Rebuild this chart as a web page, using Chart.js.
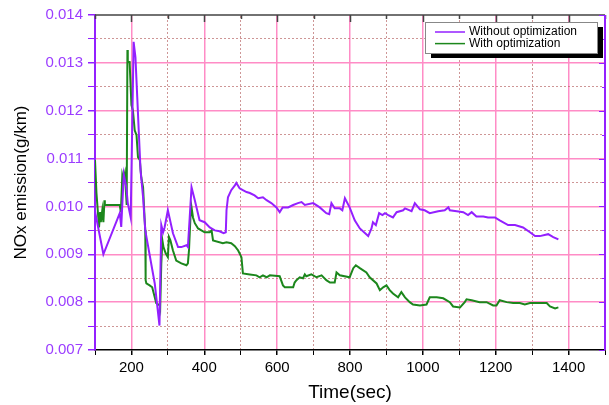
<!DOCTYPE html>
<html>
<head>
<meta charset="utf-8">
<script src="https://cdn.jsdelivr.net/npm/chart.js@4.4.1/dist/chart.umd.min.js"></script>
<style>
  html, body { margin: 0; padding: 0; background: #fff; }
  #wrap { width: 609px; height: 405px; }
</style>
</head>
<body>
<div id="wrap"><canvas id="c" width="609" height="405"></canvas></div>
<script>
// NOx emission over a drive cycle, with and without optimization
const timeWithout = [100,123,168,172,179,186,190,198,206,211,216,220,225,232,238,264,277,282,287,291,
  300,314,328,337,351,355,360,365,374,387,401,415,429,442,453,459,461,465,474,484,
  488,497,506,516,525,538,548,561,571,584,598,607,615,630,644,657,667,676,699,717,
  735,743,749,758,772,779,786,799,813,827,850,859,863,871,880,889,896,905,918,928,
  946,951,969,978,992,1005,1019,1042,1060,1070,1074,1093,1111,1124,1134,1147,1166,1179,1198,1211,
  1234,1253,1275,1294,1308,1321,1344,1358,1372];
const noxWithout = [0.0099,0.0090,0.00986,0.00957,0.01067,0.0104,0.01007,0.00977,0.01344,0.01312,
  0.01228,0.01159,0.01076,0.01019,0.0095,0.00839,0.00751,0.00961,0.00946,0.00956,
  0.00992,0.00944,0.00915,0.00915,0.00919,0.00915,0.00977,0.0104,0.01013,0.00971,
  0.00967,0.00956,0.0095,0.00948,0.00944,0.00946,0.00992,0.01019,0.01034,0.01044,
  0.01049,0.01038,0.01034,0.0103,0.01028,0.01023,0.01017,0.01019,0.01013,0.01007,
  0.00998,0.00988,0.00998,0.00998,0.01003,0.01007,0.01009,0.01003,0.01007,0.00998,
  0.00986,0.00984,0.01007,0.00996,0.00996,0.00992,0.01017,0.00998,0.00971,0.00954,
  0.00938,0.00954,0.00967,0.00961,0.00986,0.00982,0.00986,0.00982,0.00977,0.00988,
  0.00992,0.00996,0.0099,0.01007,0.00994,0.00992,0.00986,0.0099,0.00992,0.00998,
  0.00992,0.0099,0.00988,0.00982,0.00988,0.00979,0.00979,0.00977,0.00977,0.00971,
  0.00961,0.00961,0.00956,0.00946,0.00938,0.00938,0.00942,0.00936,0.00931];

const timeWith = [100,104,109,111,114,116,120,123,126,127,159,168,171,175,178,182,187,189,190,195,
  200,204,209,214,218,223,227,232,236,238,239,241,250,257,264,268,278,279,282,285,
  288,294,300,303,307,314,323,337,351,355,358,362,365,369,374,383,401,415,420,424,
  451,461,474,484,493,502,506,525,543,552,561,571,580,607,616,621,644,648,653,662,
  671,676,680,694,708,722,735,745,758,763,772,799,809,816,827,845,854,873,882,891,
  900,909,918,932,941,951,964,973,992,1010,1019,1038,1056,1074,1083,1102,1115,1120,1134,1156,
  1175,1193,1202,1211,1230,1248,1266,1280,1294,1312,1340,1349,1363,1372];
const noxWith = [0.01097,0.01028,0.00977,0.00956,0.00988,0.00967,0.00992,0.00967,0.01013,0.01003,
  0.01003,0.01003,0.00988,0.01065,0.01055,0.01069,0.01003,0.01327,0.01302,0.01302,
  0.01212,0.01201,0.01159,0.01149,0.01103,0.01097,0.01061,0.0104,0.00977,0.0095,
  0.00846,0.00839,0.00835,0.00831,0.0081,0.00798,0.00793,0.00789,0.00881,0.00929,
  0.00915,0.00902,0.00894,0.00936,0.00929,0.00908,0.00887,0.00881,0.00877,0.00881,
  0.00908,0.00977,0.00998,0.00977,0.00965,0.00954,0.00946,0.00946,0.0095,0.00929,
  0.00923,0.00925,0.00923,0.00917,0.00908,0.00894,0.0086,0.00858,0.00856,0.00852,
  0.00856,0.00852,0.00856,0.00854,0.00835,0.00831,0.00831,0.00841,0.00846,0.00852,
  0.0085,0.00858,0.00854,0.00858,0.00852,0.00856,0.00846,0.00841,0.00841,0.00862,
  0.00856,0.00852,0.00871,0.00877,0.00871,0.00862,0.00852,0.00839,0.00825,0.00831,
  0.00835,0.00825,0.00818,0.0081,0.00821,0.0081,0.008,0.00795,0.00793,0.00795,
  0.0081,0.0081,0.00808,0.008,0.00791,0.00789,0.008,0.00806,0.00804,0.008,
  0.008,0.00793,0.00793,0.00804,0.008,0.00798,0.00798,0.00795,0.00798,0.00798,
  0.00798,0.00791,0.00787,0.00789];

const xTickLabels = ['200','400','600','800','1000','1200','1400'];
const yTickLabels = ['0.007','0.008','0.009','0.010','0.011','0.012','0.013','0.014'];
const seriesLabels = ['Without optimization', 'With optimization'];

const PURPLE = '#9320ff';
const PURPLE_TEXT = '#9b3dff';
const GREEN = '#1c871c';
const PINK = '#ff8cc6';
const FONT = 'Arial, "Liberation Sans", sans-serif';

const canvas = document.getElementById('c');
const ctx2d = canvas.getContext('2d');

// dotted minor grid: repeating dash patterns (vertical dashes for x grid, horizontal for y grid)
function dashPattern(vertical) {
  const p = document.createElement('canvas');
  p.width = 4; p.height = 4;
  const g = p.getContext('2d');
  g.fillStyle = 'rgba(185,105,105,0.7)';
  if (vertical) g.fillRect(0, 0, 4, 2); else g.fillRect(0, 0, 2, 4);
  return ctx2d.createPattern(p, 'repeat');
}
const vDots = dashPattern(true);
const hDots = dashPattern(false);

const isMajorX = v => v % 200 === 0;
const isMajorY = v => Math.round(v * 10000) % 10 === 0;

// top and right axes with inward ticks
const frame = {
  id: 'frame',
  afterDraw(chart) {
    const { ctx, chartArea: a, scales: { x, y } } = chart;
    ctx.save();
    ctx.lineWidth = 1.5;
    ctx.strokeStyle = '#444';
    ctx.beginPath();
    ctx.moveTo(a.left, a.top); ctx.lineTo(a.right, a.top);
    x.ticks.forEach(t => {
      const px = Math.round(x.getPixelForValue(t.value)) + 0.5;
      const len = isMajorX(t.value) ? 7 : 4;
      ctx.moveTo(px, a.top); ctx.lineTo(px, a.top + len);
    });
    ctx.stroke();
    ctx.strokeStyle = PURPLE;
    ctx.lineWidth = 2;
    ctx.beginPath();
    ctx.moveTo(a.right, a.top); ctx.lineTo(a.right, a.bottom);
    ctx.stroke();
    ctx.lineWidth = 1;
    ctx.beginPath();
    y.ticks.forEach(t => {
      const py = Math.round(y.getPixelForValue(t.value)) + 0.5;
      const len = isMajorY(t.value) ? 6 : 3;
      ctx.moveTo(a.right, py); ctx.lineTo(a.right - len, py);
    });
    ctx.stroke();
    ctx.restore();
  }
};

// framed legend with drop shadow in the upper right of the plot
const legendBox = {
  id: 'legendBox',
  afterDraw(chart) {
    const { ctx, chartArea: a } = chart;
    const w = 172, h = 31;
    const left = a.right - 180, top = a.top + 7;
    ctx.save();
    ctx.fillStyle = '#000';
    ctx.fillRect(left + 6, top + 5, w, h);
    ctx.fillStyle = '#fff';
    ctx.fillRect(left, top, w, h);
    ctx.strokeStyle = '#888';
    ctx.lineWidth = 1;
    ctx.strokeRect(left + 0.5, top + 0.5, w, h);
    ctx.font = '12px ' + FONT;
    ctx.textBaseline = 'middle';
    chart.data.datasets.forEach((ds, i) => {
      const yy = top + 10 + i * 11.6;
      ctx.strokeStyle = ds.borderColor;
      ctx.lineWidth = 1.5;
      ctx.beginPath();
      ctx.moveTo(left + 10, yy); ctx.lineTo(left + 40, yy);
      ctx.stroke();
      ctx.fillStyle = '#000';
      ctx.fillText(ds.label, left + 44, yy);
    });
    ctx.restore();
  }
};

const toPoints = (ts, vs) => ts.map((t, i) => ({ x: t, y: vs[i] }));

new Chart(canvas, {
  type: 'line',
  data: {
    datasets: [
      { label: seriesLabels[0], data: toPoints(timeWithout, noxWithout), borderColor: PURPLE,
        borderWidth: 2, pointRadius: 0, tension: 0, fill: false },
      { label: seriesLabels[1], data: toPoints(timeWith, noxWith), borderColor: GREEN,
        borderWidth: 2, pointRadius: 0, tension: 0, fill: false }
    ]
  },
  options: {
    responsive: false,
    animation: false,
    devicePixelRatio: 1,
    layout: { padding: { top: 15, right: 4, left: 0, bottom: 0 } },
    plugins: { legend: { display: false }, tooltip: { enabled: false } },
    scales: {
      x: {
        type: 'linear', min: 100, max: 1500,
        ticks: {
          stepSize: 100, autoSkip: false, maxRotation: 0, color: '#000', padding: 4,
          font: { size: 15, family: FONT },
          callback: v => (xTickLabels.includes(String(v)) ? String(v) : '')
        },
        grid: {
          color: c => (c.tick.value === 100 || c.tick.value === 1500) ? 'rgba(0,0,0,0)'
                      : (isMajorX(c.tick.value) ? PINK : vDots),
          lineWidth: c => isMajorX(c.tick.value) ? 1.5 : 1,
          tickColor: '#000', tickLength: 5, drawTicks: true
        },
        border: { color: '#000', width: 1.5 },
        title: { display: true, text: 'Time(sec)', color: '#000',
                 font: { size: 19, family: FONT }, padding: { top: 0, bottom: 1 } },
        afterFit(s) { s.height = 55; }
      },
      y: {
        min: 0.007, max: 0.014,
        ticks: {
          stepSize: 0.0005, autoSkip: false, color: PURPLE_TEXT, padding: 5,
          font: { size: 15, family: FONT },
          callback: v => {
            const s = v.toFixed(3);
            return isMajorY(v) && yTickLabels.includes(s) ? s : '';
          }
        },
        grid: {
          color: c => (c.tick.value <= 0.007 || c.tick.value >= 0.014) ? 'rgba(0,0,0,0)'
                      : (isMajorY(c.tick.value) ? PINK : hDots),
          lineWidth: c => isMajorY(c.tick.value) ? 1.5 : 1,
          tickColor: PURPLE, tickLength: 7, drawTicks: true
        },
        border: { color: PURPLE, width: 2 },
        title: { display: true, text: 'NOx emission(g/km)', color: '#000',
                 font: { size: 17, family: FONT }, padding: { top: 11, bottom: 0 } },
        afterFit(s) { s.width = 95; }
      }
    }
  },
  plugins: [frame, legendBox]
});
</script>
</body>
</html>
